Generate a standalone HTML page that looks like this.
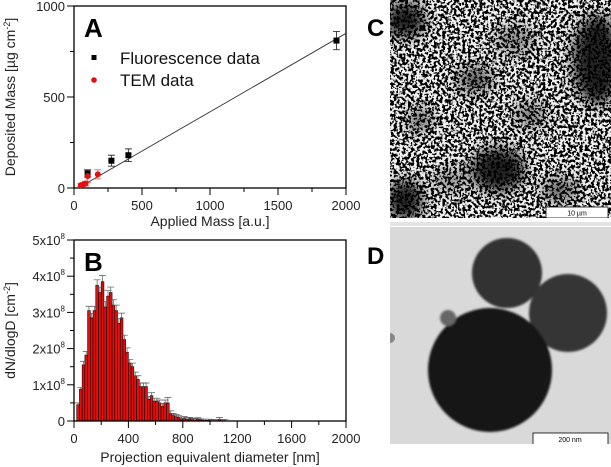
<!DOCTYPE html>
<html><head><meta charset="utf-8">
<style>
html,body{margin:0;padding:0;background:#fff;width:611px;height:467px;overflow:hidden}
svg text{font-family:"Liberation Sans",Arial,sans-serif}
</style></head>
<body>
<svg id="fig" width="611" height="467" viewBox="0 0 611 467" xmlns="http://www.w3.org/2000/svg">
<defs>
<filter id="speckle" x="0" y="0" width="100%" height="100%">
<feTurbulence type="fractalNoise" baseFrequency="0.35" numOctaves="2" seed="3" result="n"/>
<feColorMatrix type="matrix" values="0 0 0 0 0  0 0 0 0 0  0 0 0 0 0  12 0 0 0 -5.6" in="n"/>
</filter>
<filter id="blur6" x="-50%" y="-50%" width="200%" height="200%"><feGaussianBlur stdDeviation="7"/></filter>
<filter id="blur1"><feGaussianBlur stdDeviation="1"/></filter>
<clipPath id="clipC"><rect x="390" y="0" width="221" height="218"/></clipPath>
<clipPath id="clipD"><rect x="390" y="227" width="221" height="217"/></clipPath>
</defs>

<g id="panelA"></g>
<g id="panelB"></g>

<!-- Panel C -->
<g clip-path="url(#clipC)">
<rect x="390" y="0" width="221" height="218" fill="#f2f2f2"/>
<rect x="390" y="0" width="221" height="218" fill="#000" filter="url(#speckle)"/>
<g filter="url(#blur6)" opacity="0.85">
<ellipse cx="405" cy="20" rx="20" ry="18" fill="#000"/>
<ellipse cx="597" cy="60" rx="24" ry="45" fill="#000"/>
<ellipse cx="498" cy="170" rx="27" ry="22" fill="#000"/>
<ellipse cx="405" cy="200" rx="18" ry="20" fill="#000"/>
<ellipse cx="475" cy="80" rx="18" ry="14" fill="#111" opacity="0.7"/>
<ellipse cx="420" cy="120" rx="12" ry="12" fill="#111" opacity="0.7"/>
<ellipse cx="530" cy="115" rx="16" ry="12" fill="#111" opacity="0.6"/>
<ellipse cx="560" cy="190" rx="18" ry="12" fill="#111" opacity="0.7"/>
<ellipse cx="515" cy="40" rx="20" ry="15" fill="#111" opacity="0.5"/>
<ellipse cx="450" cy="180" rx="16" ry="12" fill="#111" opacity="0.5"/>
</g>
<rect x="546" y="207" width="62" height="11" fill="#fff" stroke="#000" stroke-width="0.8"/>
<text x="577" y="215.5" font-size="7" text-anchor="middle">10 µm</text>
</g>
<rect x="390" y="222" width="221" height="4" fill="#e4e4e4"/>

<!-- Panel D -->
<g clip-path="url(#clipD)">
<rect x="390" y="227" width="221" height="217" fill="#d9d9d9"/>
<g filter="url(#blur1)">
<circle cx="507" cy="273" r="35" fill="#333"/>
<circle cx="568" cy="313" r="39" fill="#353535"/>
<circle cx="490" cy="370" r="62" fill="#151515"/>
<circle cx="448" cy="318" r="8" fill="#666"/>
</g>
<circle cx="390" cy="338" r="5" fill="#888"/>
<rect x="533" y="433" width="75" height="12" fill="#fff" stroke="#000" stroke-width="0.8"/>
<text x="570" y="442" font-size="7" text-anchor="middle">200 nm</text>
</g>

<text x="367" y="36" font-size="24" font-weight="bold">C</text>
<text x="367" y="264" font-size="24" font-weight="bold">D</text>
</svg>

<script>
const NS="http://www.w3.org/2000/svg";
function mk(parent,tag,attrs,text){const e=document.createElementNS(NS,tag);for(const k in attrs)e.setAttribute(k,attrs[k]);if(text!==undefined)e.textContent=text;parent.appendChild(e);return e;}

// ---------- Panel A data ----------
const fluorX=[100,275,400,1930];
const fluorY=[80,150,180,810];
const fluorErr=[20,30,35,50];
const temX=[50,70,85,100,175];
const temY=[15,20,25,65,75];
const temErr=[8,10,12,35,25];
const fitX=[30,2000];
const fitY=[0,850];
const aXTicks=[0,500,1000,1500,2000];
const aYTicks=[0,500,1000];

// ---------- Panel B data ----------
const binCenters=[30,50,70,90,110,130,150,170,190,210,230,250,270,290,310,330,350,370,390,410,430,450,470,490,510,530,550,570,590,610,630,650,670,690,710,730,750,770,790,810,830,850,870,890,910,930,950,970,990,1010,1030,1050,1070,1090,1110];
const binValues=[0.45,0.88,1.55,1.82,3.05,2.85,3.05,3.75,3.55,3.85,3.15,3.45,3.55,3.2,3.05,2.7,2.85,2.25,1.9,1.6,1.5,1.25,1.15,0.95,0.95,0.95,0.6,0.7,0.55,0.55,0.5,0.4,0.5,0.5,0.2,0.15,0.12,0.1,0.06,0.07,0.05,0.06,0.04,0.03,0.05,0.03,0.02,0.02,0.02,0.01,0.01,0.01,0.05,0.01,0.01];
const binErrors=[0.05,0.05,0.1,0.1,0.12,0.12,0.12,0.15,0.15,0.17,0.15,0.15,0.15,0.15,0.15,0.13,0.13,0.12,0.12,0.1,0.1,0.1,0.1,0.1,0.1,0.1,0.08,0.08,0.08,0.08,0.08,0.08,0.08,0.15,0.08,0.06,0.06,0.05,0.05,0.05,0.05,0.04,0.04,0.04,0.04,0.03,0.03,0.03,0.03,0.03,0.03,0.03,0.05,0.03,0.03];
const binWidth=20;
const bXTicks=[0,400,800,1200,1600,2000];
const bYTicks=[0,1,2,3,4,5];

// ---------- Panel A ----------
(function(){
 const g=document.getElementById('panelA');
 const L=74,R=346,T=6,B=188;
 const sx=v=>L+(v-0)/(2000-0)*(R-L);
 const sy=v=>B-(v-0)/(1000-0)*(B-T);
 const frame=mk(g,'rect',{x:L,y:T,width:R-L,height:B-T,fill:'none',stroke:'#000','stroke-width':1.3});
 
 
 for(let v=0;v<=2000;v+=250){
  const major=v%500===0;
  const t=mk(g,'line',{x1:sx(v),x2:sx(v),y1:B,y2:B+(major?7:4),stroke:'#000','stroke-width':1});
  
  
 }
 aXTicks.forEach(v=>{
  const t=mk(g,'text',{x:sx(v),y:B+22,'font-size':13,'text-anchor':'middle',fill:'#222'},String(v));
  
  
 });
 for(let v=0;v<=1000;v+=250){
  const major=v%500===0;
  const t=mk(g,'line',{x1:L-(major?7:4),x2:L,y1:sy(v),y2:sy(v),stroke:'#000','stroke-width':1});
  
  
 }
 aYTicks.forEach(v=>{
  const t=mk(g,'text',{x:L-9,y:sy(v)+5,'font-size':13,'text-anchor':'end',fill:'#222'},String(v));
  
  
 });
 const xt=mk(g,'text',{x:(L+R)/2,y:226,'font-size':14,'text-anchor':'middle',fill:'#222'},'Applied Mass [a.u.]');
 
 
 const yt=mk(g,'text',{transform:`translate(15,${(T+B)/2}) rotate(-90)`,'font-size':14,'text-anchor':'middle',fill:'#222'});
 
 
 yt.innerHTML='Deposited Mass [µg cm<tspan dy="-5" font-size="9">-2</tspan><tspan dy="5">]</tspan>';
 const fit=mk(g,'line',{x1:sx(fitX[0]),y1:sy(fitY[0]),x2:sx(fitX[1]),y2:sy(fitY[1]),stroke:'#333','stroke-width':0.9});
 
 
 temX.forEach((x,i)=>{
  const eb=mk(g,'path',{d:`M${sx(x)},${sy(temY[i]-temErr[i])}V${sy(temY[i]+temErr[i])}M${sx(x)-3.5},${sy(temY[i]-temErr[i])}h7M${sx(x)-3.5},${sy(temY[i]+temErr[i])}h7`,stroke:'#f06060','stroke-width':0.9,fill:'none'});
  
  
 });
 fluorX.forEach((x,i)=>{
  const eb=mk(g,'path',{d:`M${sx(x)},${sy(fluorY[i]-fluorErr[i])}V${sy(fluorY[i]+fluorErr[i])}M${sx(x)-3.5},${sy(fluorY[i]-fluorErr[i])}h7M${sx(x)-3.5},${sy(fluorY[i]+fluorErr[i])}h7`,stroke:'#333','stroke-width':0.9,fill:'none'});
  
  
  const p=mk(g,'rect',{x:sx(x)-3,y:sy(fluorY[i])-3,width:6,height:6,fill:'#000'});
  
  
 });
 temX.forEach((x,i)=>{
  const p=mk(g,'circle',{cx:sx(x),cy:sy(temY[i]),r:3,fill:'#e31010'});
  
  
 });
 const lab=mk(g,'text',{x:84,y:37,'font-size':26,'font-weight':'bold'},'A');
 
 
 const l1=mk(g,'rect',{x:91.5,y:55,width:5,height:5,fill:'#000'});
 
 
 const l1t=mk(g,'text',{x:120,y:64,'font-size':17,fill:'#111'},'Fluorescence data');
 
 
 const l2=mk(g,'circle',{cx:94,cy:80,r:2.8,fill:'#e31010'});
 
 
 const l2t=mk(g,'text',{x:120,y:86,'font-size':17,fill:'#111'},'TEM data');
 
 
})();

// ---------- Panel B ----------
(function(){
 const g=document.getElementById('panelB');
 const L=74,R=346,T=240,B=421;
 const sx=v=>L+v/2000*(R-L);
 const sy=v=>B-v/5*(B-T);
 binCenters.forEach((c,i)=>{
  const b=mk(g,'rect',{x:sx(c-binWidth/2),y:sy(binValues[i]),width:sx(c+binWidth/2)-sx(c-binWidth/2),height:B-sy(binValues[i]),fill:'#e01010',stroke:'#1a0000','stroke-width':0.6});
  
  
 });
 binCenters.forEach((c,i)=>{
  const top=sy(binValues[i]+binErrors[i]);
  const e=mk(g,'path',{d:`M${sx(c)},${sy(binValues[i])}V${top}M${sx(c)-3.5},${top}h7`,stroke:'#555','stroke-width':0.7,fill:'none'});
  
  
 });
 const frame=mk(g,'rect',{x:L,y:T,width:R-L,height:B-T,fill:'none',stroke:'#000','stroke-width':1.3});
 
 
 for(let v=0;v<=2000;v+=200){
  const major=v%400===0;
  const t=mk(g,'line',{x1:sx(v),x2:sx(v),y1:B,y2:B+(major?7:4),stroke:'#000','stroke-width':1});
  
  
 }
 bXTicks.forEach(v=>{
  const t=mk(g,'text',{x:sx(v),y:B+22,'font-size':13,'text-anchor':'middle',fill:'#222'},String(v));
  
  
 });
 for(let v=0;v<=5;v+=0.5){
  const major=Number.isInteger(v);
  const t=mk(g,'line',{x1:L-(major?7:4),x2:L,y1:sy(v),y2:sy(v),stroke:'#000','stroke-width':1});
  
  
 }
 bYTicks.forEach(v=>{
  const t=mk(g,'text',{x:L-9,y:sy(v)+5,'font-size':13,'text-anchor':'end',fill:'#222'});
  
  
  if(v===0)t.textContent='0';
  else t.innerHTML=v+'x10<tspan dy="-6" font-size="8">8</tspan>';
 });
 const xt=mk(g,'text',{x:(L+R)/2,y:462,'font-size':14,'text-anchor':'middle',fill:'#222'},'Projection equivalent diameter [nm]');
 
 
 const yt=mk(g,'text',{transform:`translate(15,${(T+B)/2}) rotate(-90)`,'font-size':14,'text-anchor':'middle',fill:'#222'});
 
 
 yt.innerHTML='dN/dlogD [cm<tspan dy="-5" font-size="9">-2</tspan><tspan dy="5">]</tspan>';
 const lab=mk(g,'text',{x:84,y:271,'font-size':26,'font-weight':'bold'},'B');
 
 
})();
</script>
</body></html>
